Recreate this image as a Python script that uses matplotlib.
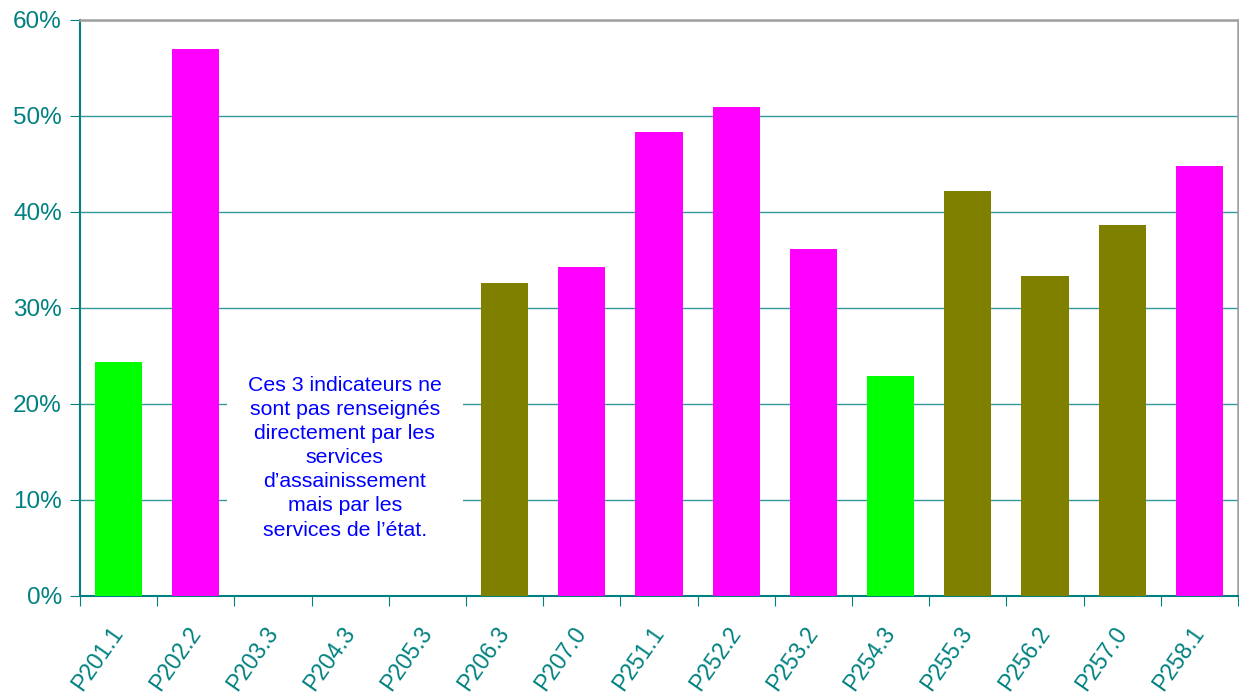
import numpy as np
import matplotlib
matplotlib.use("Agg")
import matplotlib.pyplot as plt

plt.rcParams['font.family'] = ['Liberation Sans', 'DejaVu Sans']

# indicateurs et taux (%)
codes = ["P201.1", "P202.2", "P203.3", "P204.3", "P205.3", "P206.3", "P207.0",
         "P251.1", "P252.2", "P253.2", "P254.3", "P255.3", "P256.2", "P257.0", "P258.1"]
taux = [24.4, 57.0, 0, 0, 0, 32.6, 34.3, 48.3, 50.9, 36.1, 22.9, 42.2, 33.3, 38.6, 44.8]
couleurs = ["#00ff00", "#ff00ff", "#ff00ff", "#ff00ff", "#ff00ff", "#808000", "#ff00ff",
            "#ff00ff", "#ff00ff", "#ff00ff", "#00ff00", "#808000", "#808000", "#808000", "#ff00ff"]
note = ("Ces 3 indicateurs ne\nsont pas renseignés\ndirectement par les\nservices\n"
        "d\u2019assainissement\nmais par les\nservices de l\u2019état.")

teal = "#008080"

fig = plt.figure(figsize=(12.39, 6.93), dpi=100)
ax = fig.add_axes([80/1239, 1-596/693, 1158/1239, 576/693])

x = np.arange(len(codes))
ax.bar(x, taux, width=0.61, color=couleurs, zorder=3)

ax.set_xlim(-0.5, len(codes) - 0.5)
ax.set_ylim(0, 60)
ax.set_yticks(np.arange(0, 61, 10))
ax.set_yticklabels([f"{v}%" for v in range(0, 61, 10)])
ax.yaxis.grid(True, color=teal, linewidth=1.0, alpha=0.8, zorder=0)

# ticks entre les catégories, étiquettes au centre
ax.set_xticks(np.arange(-0.5, len(codes), 1.0))
ax.set_xticklabels([])
ax.set_xticks(x, minor=True)
ax.set_xticklabels(codes, minor=True, rotation=55, ha='right', va='center',
                   rotation_mode='anchor')
ax.tick_params(axis='x', which='minor', length=0, pad=24, labelsize=16.5, labelcolor=teal)
ax.tick_params(axis='x', which='major', length=7, color=teal, direction='out')
ax.tick_params(axis='y', length=7, color=teal, labelsize=17.5, labelcolor=teal, pad=6)

for s in ['left', 'bottom']:
    ax.spines[s].set_color(teal)
    ax.spines[s].set_linewidth(1.5)
for s in ['top', 'right']:
    ax.spines[s].set_color("#a0a0a0")
    ax.spines[s].set_linewidth(1.8)

ax.text(2.93, 14.4, note, ha='center', va='center', color="#0000ff", fontsize=15.3,
        linespacing=1.34, zorder=4,
        bbox=dict(facecolor='white', edgecolor='none', pad=15))

fig.savefig("out.png", dpi=100)
